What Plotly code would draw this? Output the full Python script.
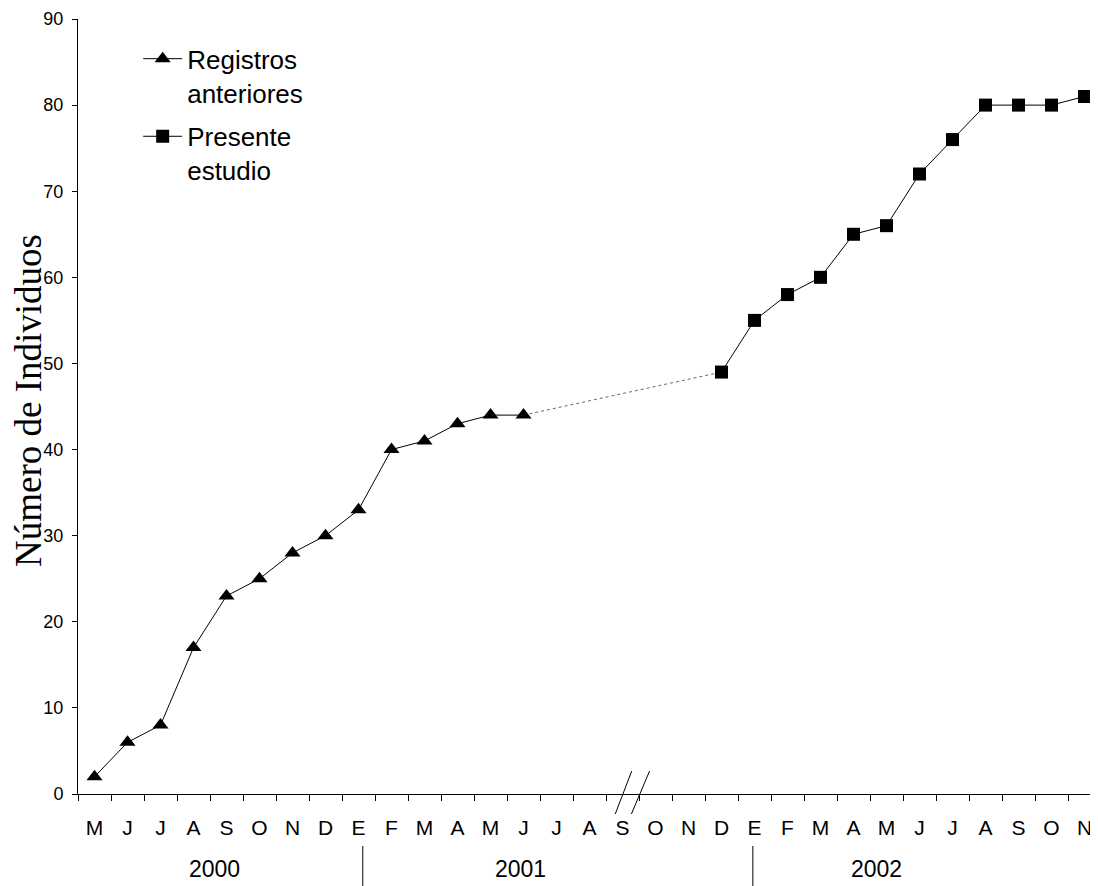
import plotly.graph_objects as go

# ---- data ----
months = ["M", "J", "J", "A", "S", "O", "N", "D",
          "E", "F", "M", "A", "M", "J", "J", "A", "S", "O", "N", "D",
          "E", "F", "M", "A", "M", "J", "J", "A", "S", "O", "N"]
years = ["2000", "2001", "2002"]

prev_idx = list(range(0, 14))
prev_vals = [2, 6, 8, 17, 23, 25, 28, 30, 33, 40, 41, 43, 44, 44]

pres_idx = list(range(19, 31))
pres_vals = [49, 55, 58, 60, 65, 66, 72, 76, 80, 80, 80, 81]

prev_name = "Registros<br>anteriores"
pres_name = "Presente<br>estudio"
y_title = "Número de Individuos"

# ---- figure ----
SANS = "Arial, Liberation Sans, sans-serif"
SERIF = "Times New Roman, Liberation Serif, serif"

fig = go.Figure()

fig.add_trace(go.Scatter(
    x=[prev_idx[-1], pres_idx[0]], y=[prev_vals[-1], pres_vals[0]],
    mode="lines", line=dict(color="#666666", width=1, dash="dot"),
    showlegend=False, hoverinfo="skip"))

fig.add_trace(go.Scatter(
    x=prev_idx, y=prev_vals, name=prev_name, legendgroup="a",
    mode="lines+markers",
    line=dict(color="black", width=1),
    marker=dict(symbol="triangle-up", size=14, color="black")))

fig.add_trace(go.Scatter(
    x=pres_idx, y=pres_vals, name=pres_name, legendgroup="b",
    mode="lines+markers",
    line=dict(color="black", width=1),
    marker=dict(symbol="square", size=13, color="black")))

# page has an 8px body margin, so the figure is placed at (8, 8)
W, H = 1090, 878
ML, MR, MT, MB = 70, 0, 11, 92
plot_w = W - ML - MR
plot_h = H - MT - MB
cat_px = 33.0
x_range = [-0.5, -0.5 + plot_w / cat_px]

def py(page_px):
    # convert a page pixel row to paper y
    fig_px = page_px - 8
    return (H - MB - fig_px) / plot_h

def px(page_px):
    # convert a page pixel column to paper x
    fig_px = page_px - 8
    return (fig_px - ML) / plot_w

fig.update_layout(
    width=W, height=H,
    margin=dict(l=ML, r=MR, t=MT, b=MB, pad=0, autoexpand=False),
    paper_bgcolor="white", plot_bgcolor="white",
    font=dict(family=SANS, color="black"),
    showlegend=True,
    legend=dict(x=0.059, y=0.979, xanchor="left", yanchor="top",
                font=dict(family=SANS, size=26, color="black"),
                bgcolor="rgba(0,0,0,0)", tracegroupgap=7,
                itemwidth=39, valign="top"),
    xaxis=dict(
        range=x_range, showgrid=False, zeroline=False,
        showline=True, linecolor="black", linewidth=1,
        tickmode="array", tickvals=list(range(len(months))), ticktext=months,
        ticks="", tickfont=dict(family=SANS, size=21, color="black"),
        ticklabelstandoff=15,
        minor=dict(ticks="outside", ticklen=6, tickcolor="black",
                   tickwidth=1, tickmode="linear", tick0=-0.5, dtick=1,
                   showgrid=False),
    ),
    yaxis=dict(
        range=[0, 90], showgrid=False, zeroline=False,
        showline=True, linecolor="black", linewidth=1,
        tickmode="linear", tick0=0, dtick=10,
        ticks="outside", ticklen=5, tickcolor="black",
        tickfont=dict(family=SANS, size=18, color="black"),
        ticklabelstandoff=5,
    ),
)

# y-axis title
fig.add_annotation(x=px(28), y=py(401), xref="paper", yref="paper",
                   text=y_title, textangle=-90, showarrow=False,
                   font=dict(family=SERIF, size=37, color="black"),
                   xanchor="center", yanchor="middle", borderpad=0)

year_pos = [3.65, 12.9, 23.7]
for yr, xp in zip(years, year_pos):
    fig.add_annotation(x=xp, y=py(869), xref="x", yref="paper", text=yr,
                       showarrow=False, font=dict(family=SANS, size=23, color="black"),
                       xanchor="center", yanchor="middle")

for sx in [8.13, 19.95]:
    fig.add_shape(type="line", xref="x", yref="paper", x0=sx, x1=sx,
                  y0=py(846), y1=py(886), line=dict(color="black", width=1))

# axis break marks
for x0, x1 in [(15.78, 16.28), (16.27, 16.82)]:
    fig.add_shape(type="line", xref="x", yref="paper", x0=x0, x1=x1,
                  y0=py(814), y1=py(771), line=dict(color="black", width=1))

fig.write_html("out.html")
